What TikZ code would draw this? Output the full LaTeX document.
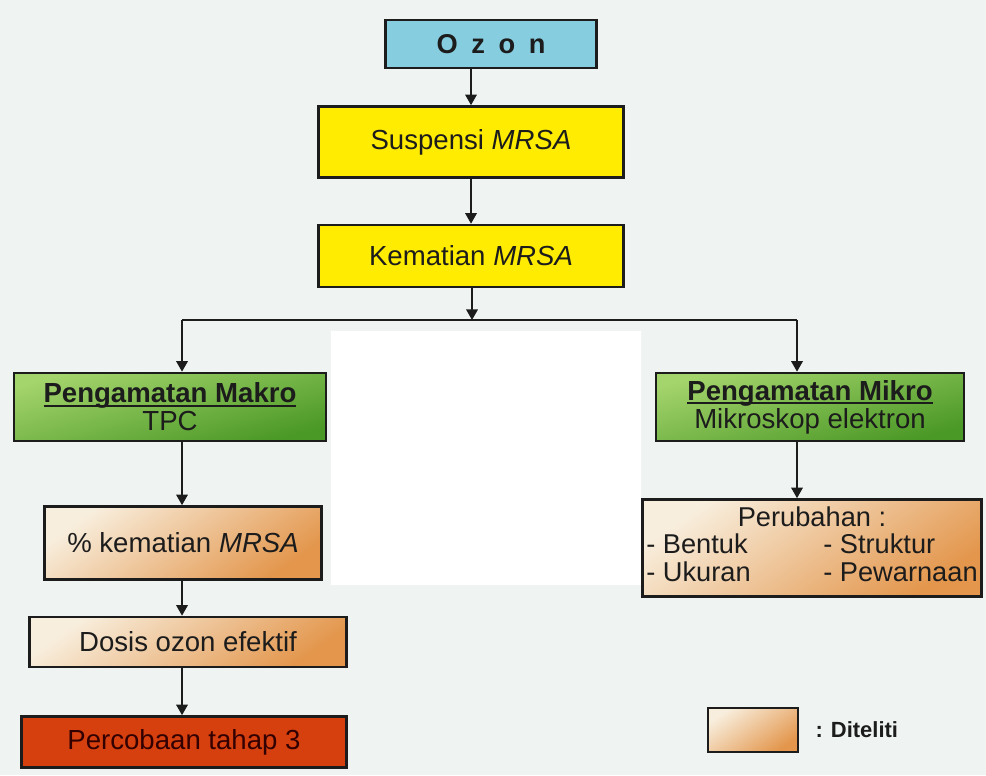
\documentclass[tikz,border=0pt]{standalone}
\usepackage{fontspec}
\setmainfont{Liberation Sans}
\usetikzlibrary{arrows.meta,shadows,positioning}

\definecolor{ozonblue}{HTML}{86CDE0}
\definecolor{mrsayellow}{HTML}{FFEC00}
\definecolor{greentop}{HTML}{A4D46C}
\definecolor{greenbot}{HTML}{4A9826}
\definecolor{creamtop}{HTML}{F8EEDD}
\definecolor{orangebot}{HTML}{E3964C}
\definecolor{tahapred}{HTML}{D6400F}
\definecolor{bgtint}{HTML}{EFF4F3}
\definecolor{ink}{HTML}{1C1C1C}

% bold heading with a close underline
\newcommand{\headline}[1]{\setbox0\hbox{\textbf{#1}}\rlap{\rule[-2.2pt]{\wd0}{0.9pt}}\box0}

\begin{document}
\begin{tikzpicture}[x=0.02cm,y=-0.02cm,
    box/.style={draw=ink,line width=1.5pt,align=center,inner sep=2pt,text=ink,
      font=\fontsize{15.7}{17}\selectfont,
      drop shadow={shadow xshift=0.8pt,shadow yshift=-0.8pt,opacity=0.4}},
    greenbox/.style={box,top color=greentop,bottom color=greenbot,shading angle=15},
    orangebox/.style={box,top color=creamtop,bottom color=orangebot,shading angle=35},
    arr/.style={draw=ink,line width=1.1pt,-{Triangle[length=6pt,width=6.5pt]}},
    link/.style={draw=ink,line width=1.1pt}]

        % Background
        \fill[bgtint] (0,0) rectangle (986,775);
        \fill[white] (331,331) rectangle (641,585);

        % Top column
        \node[box,fill=ozonblue,minimum width=4.22cm,minimum height=0.96cm,font=\bfseries\fontsize{15.5}{17}\selectfont] (ozon) at (491,44) {O\hspace{0.5em}z\hspace{0.5em}o\hspace{0.5em}n};
        \node[box,fill=mrsayellow,minimum width=6.1cm,minimum height=1.42cm] (suspensi) at (471,142) {Suspensi \textit{MRSA}};
        \node[box,fill=mrsayellow,minimum width=6.1cm,minimum height=1.24cm] (kematian) at (471,256) {Kematian \textit{MRSA}};

        % Branch points
        \coordinate (split) at (472,320);
        \coordinate (lbr) at (182,320);
        \coordinate (rbr) at (797,320);

        % Left column
        \node[greenbox,minimum width=6.24cm,minimum height=1.36cm] (makro) at (170,407) {\headline{Pengamatan Makro}\\[-1pt]TPC};
        \node[orangebox,minimum width=5.54cm,minimum height=1.46cm] (persen) at (183,543) {\% kematian \textit{MRSA}};
        \node[orangebox,minimum width=6.34cm,minimum height=1.0cm] (dosis) at (188,642) {Dosis ozon efektif};
        \node[box,fill=tahapred,text=black!80!red,minimum width=6.5cm,minimum height=1.02cm] (tahap) at (184,742) {Percobaan tahap 3};

        % Right column
        \node[greenbox,minimum width=6.16cm,minimum height=1.36cm] (mikro) at (810,407) {\headline{Pengamatan Mikro}\\[-1pt]Mikroskop elektron};
        \node[orangebox,minimum width=6.78cm,minimum height=1.94cm,font=\fontsize{15.5}{15}\selectfont] (perubahan) at (812,548)
          {\begin{tabular}{@{}p{3.54cm}@{}l@{}}
             \multicolumn{2}{c}{Perubahan :}\\
             - Bentuk & - Struktur\\
             - Ukuran & - Pewarnaan
           \end{tabular}};

        % Legend
        \node[orangebox,minimum width=1.8cm,minimum height=0.88cm] (legend) at (753,730) {};
        \node[right=0.2cm of legend,text=ink,font=\bfseries\fontsize{12.5}{15}\selectfont] (legtext) {: Diteliti};

        % Arrows
        \draw[arr] (ozon.south -| suspensi.north) -- (suspensi.north);
        \draw[arr] (suspensi) -- (kematian);
        \draw[arr] (kematian.south -| split) -- (split);
        \draw[link] (lbr) -- (rbr);
        \draw[arr] (lbr) -- (lbr |- makro.north);
        \draw[arr] (rbr) -- (rbr |- mikro.north);
        \draw[arr] (lbr |- makro.south) -- (lbr |- persen.north);
        \draw[arr] (lbr |- persen.south) -- (lbr |- dosis.north);
        \draw[arr] (lbr |- dosis.south) -- (lbr |- tahap.north);
        \draw[arr] (rbr |- mikro.south) -- (rbr |- perubahan.north);
\end{tikzpicture}
\end{document}
